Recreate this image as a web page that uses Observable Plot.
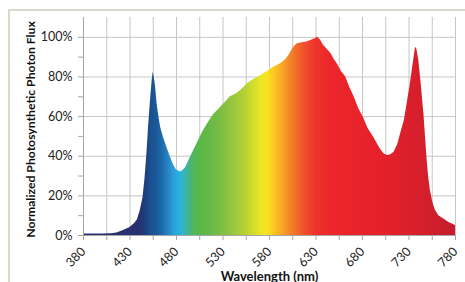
<!DOCTYPE html>
<html>
<head>
<meta charset="utf-8">
<script src="https://cdn.jsdelivr.net/npm/d3@7"></script>
<script src="https://cdn.jsdelivr.net/npm/@observablehq/plot@0.6"></script>
<style>
  html, body { margin: 0; padding: 0; background: #fff; width: 465px; height: 282px; overflow: hidden; }
  #frame { position: absolute; left: 8px; top: 9px; width: 600px; height: 400px;
           border-left: 2px solid #d9d9cc; border-top: 2px solid #d9d9cc; }
  #chart { position: absolute; left: 0; top: 0; }
</style>
</head>
<body>
<svg width="0" height="0" style="position:absolute">
  <defs>
    <linearGradient id="spec" x1="0" x2="1" y1="0" y2="0"></linearGradient>
  </defs>
</svg>
<div id="frame"></div>
<div id="chart"></div>
<script>
// Wavelength (nm) and normalized photosynthetic photon flux (%)
const wavelength = [380,390,400,410,416,423,430,435,438,441,444,446,448,450,452,454,455,456,457.5,459,461,463,466,470,473.5,477,480,484,487,490,495,502,509,515,520,526,531,538,545,550,556,562,568,574,580,585,592,597,601,604,607,610,615,620,625,629,632,635,638,642,646,650,653,657,662,666,671,676,681,686,692,699,703,706.5,710,714,718,721,725,728,731,733.5,735.5,737,738.5,740.5,743,746,748,749.5,751,753,756,758.5,762,767,773,780];
const flux = [0.8,0.8,0.8,0.9,1.2,2.5,4,6,8,12.5,19,28,40,55,68,79,82.5,80,75,67,60,54.5,49.5,44,39.5,35.5,33,32,32.8,34.5,39.5,46.3,53,57.5,61,64,66.5,70,71.6,73.5,76.5,78.5,80,81.6,83.5,85,86.7,88.5,91,93.5,95.5,96.8,97.2,97.6,98.5,99.3,100,98.5,96,94,91.8,88.5,86.5,83,80,75,70,64,59.5,54,49.6,43.8,41.2,40.4,40.6,42,46,51.3,58,66.5,75,83.3,90,95,94,88.4,77,61.5,48,38,30,22.7,16,12.6,10,8.4,6.5,5];

// Spectral colour stops for the fill gradient
const stopWavelength = [380,440,446,452,460,466,472,477,482,487,492,497,503,515,530,540,552,562,572,578,584,592,600,610,620,630,645,700,740,780];
const stopColor = ["#2b2f72","#283070","#1f3b7a","#1b4f8e","#1a5c9c","#1f6fb0","#2a86c8","#2a9fda","#27aee0","#33b4cc","#3fb39a","#4db56a","#58b74a","#63b846","#7fbf42","#96c63e","#b0cf36","#cfdb2c","#ede625","#f8e31f","#fccb20","#f9ad25","#f68f28","#f26a2a","#ef4b2c","#ed332b","#ec262a","#e5202a","#d71f2b","#c41d2d"];

// Axis ticks
const xTickLabels = [380,430,480,530,580,630,680,730,780];
const xGridTicks = d3.range(380, 781, 25);
const yTickLabels = [0,20,40,60,80,100];
const yMinorTicks = d3.range(0, 101, 10);

const data = wavelength.map((w, i) => ({w, f: flux[i]}));
const xMin = wavelength[0], xMax = wavelength[wavelength.length - 1];

const grad = d3.select("#spec");
stopWavelength.forEach((w, i) => {
  grad.append("stop").attr("offset", (w - xMin) / (xMax - xMin)).attr("stop-color", stopColor[i]);
});

const font = "Lato, 'Open Sans', sans-serif";
const plot = Plot.plot({
  width: 465,
  height: 282,
  marginLeft: 83,
  marginRight: 10,
  marginTop: 17,
  marginBottom: 47,
  style: {background: "transparent", fontFamily: font, fontSize: "12px", color: "#222"},
  x: {domain: [380, 780]},
  y: {domain: [0, 110]},
  marks: [
    Plot.gridX(xGridTicks, {stroke: "#c6c6c6", strokeOpacity: 1}),
    Plot.gridY(yTickLabels, {stroke: "#c6c6c6", strokeOpacity: 1}),
    Plot.areaY(data, {x: "w", y: "f", fill: "url(#spec)", curve: "linear"}),
    Plot.ruleY([0], {stroke: "#a6a6a6"}),
    Plot.ruleX([380], {stroke: "#a6a6a6"}),
    Plot.axisX(xGridTicks, {tickSize: 5, stroke: "#a6a6a6", tickFormat: () => "", label: null}),
    Plot.axisX(xTickLabels, {tickSize: 0, tickPadding: 14, tickRotate: -45, fontSize: "12.5px", fill: "#222", label: null}),
    Plot.axisY(yMinorTicks, {tickSize: 5, stroke: "#a6a6a6", tickPadding: 6, tickFormat: d => d % 20 === 0 ? d + "%" : "", fontSize: "12.5px", fill: "#222", label: null}),
    Plot.text(["Wavelength (nm)"], {frameAnchor: "bottom", dy: 45, fontWeight: "bold", fontSize: "13px", fill: "#111"}),
    Plot.text(["Normalized Photosynthetic Photon Flux"], {frameAnchor: "left", textAnchor: "middle", dx: -52, dy: 3, rotate: -90, fontWeight: "bold", fontSize: "12.2px", fill: "#111"})
  ]
});
document.getElementById("chart").appendChild(plot);
</script>
</body>
</html>
